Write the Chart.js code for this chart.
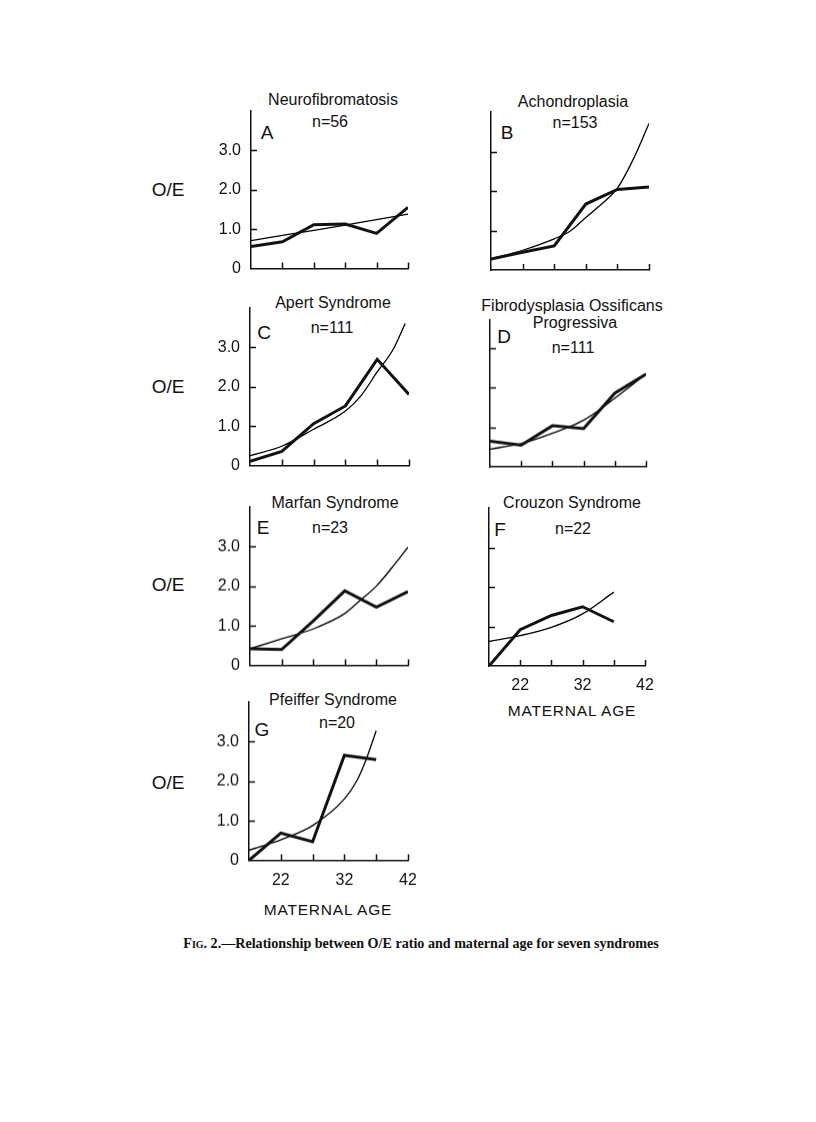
<!DOCTYPE html>
<html>
<head>
<meta charset="utf-8">
<script src="https://cdn.jsdelivr.net/npm/chart.js@4.4.1/dist/chart.umd.min.js"></script>
<style>
  body { margin: 0; background: #fff; width: 816px; height: 1122px; position: relative; overflow: hidden;
         font-family: "Liberation Sans", Arial, sans-serif; color: #111; }
  canvas { position: absolute; }
  .t { position: absolute; transform: translate(-50%, -50%); white-space: nowrap; font-size: 16px; }
  .L { font-size: 19px; }
  .oe { font-size: 19px; }
  .ma { font-size: 15.5px; letter-spacing: 0.8px; }
  .cap { font-family: "Liberation Serif", "Times New Roman", serif; font-weight: bold; font-size: 14.1px; }
</style>
</head>
<body>

<!-- panel titles and letters -->
<div class="t" style="left:333px;top:100px">Neurofibromatosis</div>
<div class="t" style="left:330px;top:122px">n=56</div>
<div class="t L" style="left:267px;top:133px">A</div>

<div class="t" style="left:573px;top:102px">Achondroplasia</div>
<div class="t" style="left:575px;top:123px">n=153</div>
<div class="t L" style="left:507px;top:133px">B</div>

<div class="t" style="left:333px;top:303px">Apert Syndrome</div>
<div class="t" style="left:332px;top:328px">n=111</div>
<div class="t L" style="left:264px;top:333px">C</div>

<div class="t" style="left:572px;top:306px">Fibrodysplasia Ossificans</div>
<div class="t" style="left:575px;top:323px">Progressiva</div>
<div class="t" style="left:573px;top:348px">n=111</div>
<div class="t L" style="left:504px;top:337px">D</div>

<div class="t" style="left:335px;top:503px">Marfan Syndrome</div>
<div class="t" style="left:330px;top:528px">n=23</div>
<div class="t L" style="left:263px;top:528px">E</div>

<div class="t" style="left:572px;top:503px">Crouzon Syndrome</div>
<div class="t" style="left:573px;top:529px">n=22</div>
<div class="t L" style="left:500px;top:530px">F</div>

<div class="t" style="left:333px;top:700px">Pfeiffer Syndrome</div>
<div class="t" style="left:337px;top:723px">n=20</div>
<div class="t L" style="left:262px;top:730px">G</div>

<!-- y axis titles -->
<div class="t oe" style="left:168px;top:190px">O/E</div>
<div class="t oe" style="left:168px;top:387px">O/E</div>
<div class="t oe" style="left:168px;top:585px">O/E</div>
<div class="t oe" style="left:168px;top:783px">O/E</div>

<!-- x axis titles -->
<div class="t ma" style="left:572px;top:711px">MATERNAL AGE</div>
<div class="t ma" style="left:328px;top:910px">MATERNAL AGE</div>

<div class="t cap" style="left:421px;top:943px"><span style="font-variant:small-caps">Fig.</span> 2.—Relationship between O/E ratio and maternal age for seven syndromes</div>

<script>
// maternal age groups (x) and O/E ratio (y)
const ages = [17, 22, 27, 32, 37, 42];
const yTicks = [0, 1, 2, 3];

// thick line = observed, thin line = fitted curve
const obsA = [0.56, 0.68, 1.11, 1.13, 0.89, 1.55];
const fitA = [0.71, 0.84, 0.97, 1.10, 1.24, 1.38];

const obsB = [0.28, 0.45, 0.61, 1.67, 2.04, 2.10];
const fitAgesB = [17, 22, 27, 29.5, 32, 34.5, 37, 39.5, 42];
const fitB = [0.28, 0.50, 0.79, 0.98, 1.33, 1.67, 2.07, 2.80, 3.71];

const obsC = [0.11, 0.36, 1.06, 1.51, 2.69, 1.80];
const fitAgesC = [17, 22, 27, 32, 34.5, 37, 39.5, 41.4];
const fitC = [0.25, 0.49, 0.92, 1.38, 1.78, 2.37, 2.94, 3.60];

const obsD = [0.65, 0.55, 1.04, 0.97, 1.86, 2.34];
const fitD = [0.45, 0.59, 0.85, 1.18, 1.73, 2.34];

const obsE = [0.42, 0.40, 1.12, 1.88, 1.47, 1.86];
const fitAgesE = [17, 22, 27, 32, 34.5, 37, 39.5, 42];
const fitE = [0.42, 0.67, 0.92, 1.31, 1.65, 2.00, 2.47, 2.98];

const obsF = [0.00, 0.92, 1.28, 1.50, 1.12];
const fitF = [0.62, 0.77, 0.98, 1.32, 1.87];

const obsG = [0.00, 0.69, 0.47, 2.65, 2.54];
const fitAgesG = [17, 22, 27, 32, 34, 35.5, 37];
const fitG = [0.26, 0.52, 0.88, 1.55, 2.02, 2.58, 3.27];

const ink = '#111';

function pts(xs, ys) {
    return ys.map((v, i) => ({ x: xs[i], y: v }));
}

// tick marks point into the plot, like the original
const inwardTicks = {
    id: 'inwardTicks',
    afterDraw(chart) {
        const { ctx, chartArea: a } = chart;
        const x = chart.scales.x, y = chart.scales.y;
        ctx.save();
        ctx.strokeStyle = ink;
        ctx.lineWidth = 1.5;
        ctx.beginPath();
        ages.slice(1).forEach(v => {
            const px = Math.round(x.getPixelForValue(v)) + 0.5;
            ctx.moveTo(px, a.bottom);
            ctx.lineTo(px, a.bottom - 6);
        });
        yTicks.slice(1).forEach(v => {
            if (v > y.max) return;
            const py = Math.round(y.getPixelForValue(v)) + 0.5;
            ctx.moveTo(a.left, py);
            ctx.lineTo(a.left + 6, py);
        });
        ctx.stroke();
        ctx.restore();
    }
};

const unit = 39.5;   // pixels per 1.0 of O/E

function makePanel(p) {
    const c = document.createElement('canvas');
    c.width = 320;
    c.height = 260;
    document.body.appendChild(c);
    const yMax = p.yMax || 4;

    const chart = new Chart(c, {
        type: 'line',
        data: {
            datasets: [
                { data: pts(ages, p.obs), borderColor: ink, borderWidth: 3, pointRadius: 0, tension: 0 },
                { data: pts(p.fitAges || ages, p.fit), borderColor: '#000', borderWidth: 1.3, pointRadius: 0,
                  cubicInterpolationMode: 'monotone' }
            ]
        },
        options: {
            responsive: false,
            maintainAspectRatio: false,
            animation: false,
            devicePixelRatio: 1,
            layout: { padding: { top: 10, right: 24, bottom: 4, left: 4 } },
            plugins: { legend: { display: false }, tooltip: { enabled: false } },
            scales: {
                x: {
                    type: 'linear', min: 17, max: 42,
                    afterBuildTicks: s => { s.ticks = ages.map(v => ({ value: v })); },
                    grid: { display: false, drawTicks: false },
                    border: { display: true, color: ink, width: 1.5 },
                    ticks: {
                        display: p.xLabels, padding: 10, color: ink, maxRotation: 0,
                        font: { family: 'Liberation Sans', size: 16 },
                        callback: v => (v === 22 || v === 32 || v === 42) ? String(v) : ''
                    },
                    afterFit: s => { s.height = 40; }
                },
                y: {
                    min: 0, max: yMax,
                    afterBuildTicks: s => { s.ticks = yTicks.map(v => ({ value: v })); },
                    grid: { display: false, drawTicks: false },
                    border: { display: true, color: ink, width: 1.5 },
                    ticks: {
                        display: p.yLabels, padding: 10, color: ink,
                        font: { family: 'Liberation Sans', size: 16 },
                        callback: v => v === 0 ? '0' : v.toFixed(1)
                    },
                    afterFit: s => { s.width = 60; }
                }
            }
        },
        plugins: [inwardTicks]
    });

    // size the canvas so the plot area matches the figure, then place it
    const h = yMax * unit;
    let a = chart.chartArea;
    chart.resize(320 + (p.w - (a.right - a.left)), 260 + (h - (a.bottom - a.top)));
    a = chart.chartArea;
    c.style.left = (p.left - a.left) + 'px';
    c.style.top = (p.zero - h - a.top) + 'px';
}

makePanel({ obs: obsA, fit: fitA, left: 251, w: 157, zero: 268.5, yLabels: true,  xLabels: false });
makePanel({ obs: obsB, fit: fitB, fitAges: fitAgesB, left: 491, w: 158, zero: 270, yLabels: false, xLabels: false });
makePanel({ obs: obsC, fit: fitC, fitAges: fitAgesC, left: 250, w: 159, zero: 465.5, yLabels: true, xLabels: false });
makePanel({ obs: obsD, fit: fitD, left: 490, w: 156, zero: 466.5, yMax: 3.7, yLabels: false, xLabels: false });
makePanel({ obs: obsE, fit: fitE, fitAges: fitAgesE, left: 250, w: 158, zero: 665, yLabels: true, xLabels: false });
makePanel({ obs: obsF, fit: fitF, left: 489, w: 156, zero: 666, yLabels: false, xLabels: true });
makePanel({ obs: obsG, fit: fitG, fitAges: fitAgesG, left: 249, w: 159, zero: 860, yLabels: true, xLabels: true });
</script>
</body>
</html>
